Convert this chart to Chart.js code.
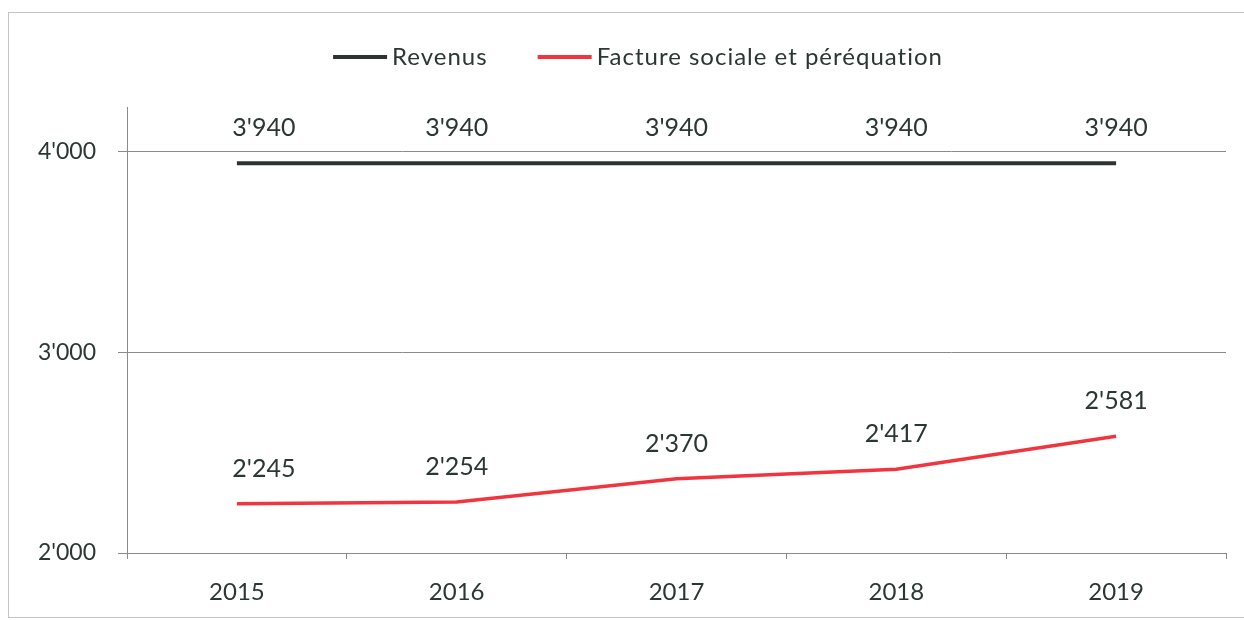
<!DOCTYPE html>
<html>
<head>
<meta charset="utf-8">
<script src="https://cdn.jsdelivr.net/npm/chart.js@4/dist/chart.umd.min.js"></script>
<style>
  html, body { margin: 0; padding: 0; background: #ffffff; overflow: hidden; }
  #wrap { position: relative; width: 1244px; height: 620px; overflow: hidden; }
  #frame { position: absolute; left: 8px; top: 12px; width: 1236px; height: 606px; border: 1px solid #c4c4c4; border-right: none; box-sizing: border-box; }
  #c { position: absolute; left: 0; top: 0; }
</style>
</head>
<body>
<div id="wrap">
  <div id="frame"></div>
  <canvas id="c" width="1244" height="620"></canvas>
</div>
<script>
const categories = ['2015', '2016', '2017', '2018', '2019'];
const seriesNames = ['Revenus', 'Facture sociale et péréquation'];
const revenus = [3940, 3940, 3940, 3940, 3940];
const factureSociale = [2245, 2254, 2370, 2417, 2581];
const yTickValues = [2000, 3000, 4000];

const TEXT = '#2b3734';
const FONT = 'Lato';

function fmt(v) {
  return String(Math.round(v)).replace(/\B(?=(\d{3})+(?!\d))/g, "'");
}

const valueLabels = {
  id: 'valueLabels',
  afterDatasetsDraw(chart, args, opts) {
    const ctx = chart.ctx;
    ctx.save();
    ctx.font = opts.size + 'px ' + FONT;
    ctx.fillStyle = TEXT;
    ctx.textAlign = 'center';
    ctx.textBaseline = 'middle';
    chart.data.datasets.forEach((ds, di) => {
      const meta = chart.getDatasetMeta(di);
      meta.data.forEach((pt, i) => {
        const dx = (opts.shiftX && opts.shiftX[i]) || 0;
        ctx.fillText(fmt(ds.data[i]), pt.x + dx, pt.y - opts.offset);
      });
    });
    ctx.restore();
  }
};

const lineLegend = {
  id: 'lineLegend',
  afterDraw(chart, args, opts) {
    const ctx = chart.ctx;
    ctx.save();
    ctx.font = opts.size + 'px ' + FONT;
    if ('letterSpacing' in ctx) ctx.letterSpacing = opts.letterSpacing;
    ctx.textBaseline = 'middle';
    const items = chart.data.datasets.map(ds => ({ text: ds.label, color: ds.borderColor, w: ctx.measureText(ds.label).width }));
    let total = 0;
    items.forEach((it, i) => { total += opts.lineLen + opts.gap + it.w + (i < items.length - 1 ? opts.spacing : 0); });
    let x = opts.centerX - total / 2;
    const y = opts.y;
    items.forEach(it => {
      ctx.fillStyle = it.color;
      ctx.fillRect(x, y - opts.lineW / 2, opts.lineLen, opts.lineW);
      x += opts.lineLen + opts.gap;
      ctx.fillStyle = TEXT;
      ctx.textAlign = 'left';
      ctx.fillText(it.text, x, y);
      x += it.w + opts.spacing;
    });
    ctx.restore();
  }
};

function draw() {
  new Chart(document.getElementById('c'), {
    type: 'line',
    data: {
      labels: categories,
      datasets: [
        { label: seriesNames[0], data: revenus, borderColor: '#2b3431', backgroundColor: '#2b3431', borderWidth: 4, pointRadius: 0, tension: 0 },
        { label: seriesNames[1], data: factureSociale, borderColor: '#f0353f', backgroundColor: '#f0353f', borderWidth: 3.5, pointRadius: 0, tension: 0 }
      ]
    },
    options: {
      responsive: false,
      animation: false,
      layout: { padding: { left: 34, right: 18, top: 107, bottom: 20 } },
      plugins: {
        legend: { display: false },
        tooltip: { enabled: false },
        valueLabels: { size: 25, offset: 35, shiftX: [27, 0, 0, 0, 0] },
        lineLegend: { size: 24, letterSpacing: '1px', centerX: 638, y: 57, lineLen: 54, lineW: 4, gap: 5, spacing: 50 }
      },
      scales: {
        x: {
          offset: true,
          afterFit: (s) => { s.height = 47; },
          grid: { offset: true, drawOnChartArea: false, drawTicks: true, tickLength: 6, color: '#8a8a8a', lineWidth: 1 },
          border: { display: true, color: '#8a8a8a', width: 1 },
          ticks: { font: { family: FONT, size: 24 }, color: TEXT, padding: 19 }
        },
        y: {
          min: 2000,
          max: 4220,
          afterFit: (s) => { s.width = 93; },
          afterBuildTicks: (scale) => { scale.ticks = yTickValues.map(v => ({ value: v })); },
          grid: { color: '#8a8a8a', lineWidth: 1, drawTicks: true, tickLength: 9 },
          border: { display: true, color: '#8a8a8a', width: 1 },
          ticks: { font: { family: FONT, size: 23 }, color: TEXT, padding: 22, callback: (v) => fmt(v) }
        }
      }
    },
    plugins: [valueLabels, lineLegend]
  });
}

Promise.all([document.fonts.load('24px Lato'), document.fonts.load('25px Lato')]).then(draw, draw);
</script>
</body>
</html>
